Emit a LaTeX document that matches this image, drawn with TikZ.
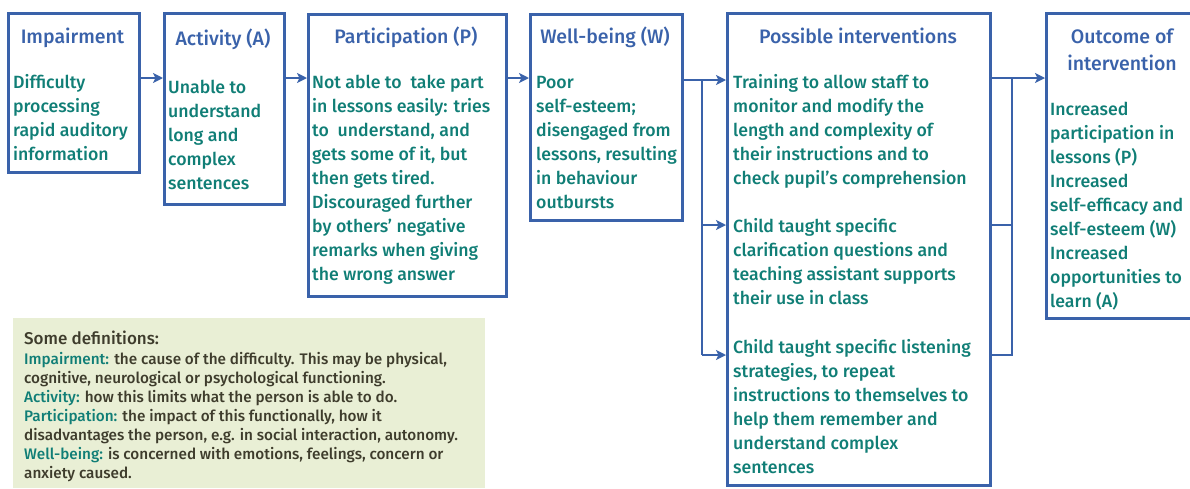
\documentclass[tikz,border=0pt]{standalone}
\usepackage{fontspec}
\setmainfont{Fira Sans}[UprightFont=* Medium, BoldFont=* SemiBold]
\usetikzlibrary{arrows.meta}
\definecolor{frameblue}{RGB}{58,98,170}
\definecolor{tealtext}{RGB}{16,126,118}
\definecolor{defbg}{RGB}{233,239,213}
\definecolor{deftext}{RGB}{62,60,44}
\begin{document}
\begin{tikzpicture}[x=1pt,y=-1pt,
  box/.style={draw=frameblue, line width=2.8pt, anchor=north west, inner sep=0pt},
  ttl/.style={text=frameblue, font=\fontsize{19.5}{27}\selectfont, align=center, anchor=base, inner sep=0pt},
  body/.style={text=tealtext, font=\fontsize{17.7}{24}\selectfont, align=left, anchor=base west, inner sep=0pt},
  defs/.style={text=deftext, font=\fontsize{15.3}{19}\selectfont, align=left, anchor=base west, inner sep=0pt},
  link/.style={draw=frameblue, line width=2.2pt},
  arr/.style={link, -{Stealth[length=10pt,width=10pt,inset=2.5pt]}}]
\clip (0,0) rectangle (1190,488);

% boxes
\node[box, minimum width=131, minimum height=159] (imp) at (7,12) {};
\node[box, minimum width=120, minimum height=191] (act) at (163,12) {};
\node[box, minimum width=198, minimum height=282] (par) at (307,13) {};
\node[box, minimum width=152, minimum height=206] (wb) at (529,13) {};
\node[box, minimum width=263, minimum height=472] (int) at (726,12) {};
\node[box, minimum width=154, minimum height=305] (out) at (1045,12) {};
\node[anchor=north west, fill=defbg, minimum width=472, minimum height=170, inner sep=0pt] (def) at (13,318) {};

% titles (anchored at the baseline of their last line)
\node[ttl] (imp-t) at (72.5,43) {Impairment};
\node[ttl] (act-t) at (223,45) {Activity (A)};
\node[ttl] (par-t) at (406,43) {Participation (P)};
\node[ttl] (wb-t) at (605,43) {Well-being (W)};
\node[ttl] (int-t) at (858,43) {Possible interventions};
\node[ttl] (out-t) at (1122,70) {Outcome of\\intervention};

% body texts (anchored at the baseline of their last line)
\node[body] (imp-b) at (13,160) {Difficulty\\processing\\rapid auditory\\information};
\node[body] (act-b) at (168,189) {Unable to\\understand\\long and\\complex\\sentences};
\node[body] (par-b) at (312,280) {Not able to\ \ take part\\in lessons easily: tries\\to\ \ understand, and\\gets some of it, but\\then gets tired.\\Discouraged further\\by others’ negative\\remarks when giving\\the wrong answer};
\node[body] (wb-b) at (536,208) {Poor\\self-esteem;\\disengaged from\\lessons, resulting\\in behaviour\\outbursts};
\node[body] (int-b1) at (733,184) {Training to allow staff to\\monitor and modify the\\length and complexity of\\their instructions and to\\check pupil’s comprehension};
\node[body] (int-b2) at (733,304) {Child taught specific\\clarification questions and\\teaching assistant supports\\their use in class};
\node[body] (int-b3) at (733,473) {Child taught specific listening\\strategies, to repeat\\instructions to themselves to\\help them remember and\\understand complex\\sentences};
\node[body] (out-b) at (1050,307) {Increased\\participation in\\lessons (P)\\Increased\\self-efficacy and\\self-esteem (W)\\Increased\\opportunities to\\learn (A)};

% definitions
\node[defs, font=\fontsize{17}{19}\selectfont] (def-t) at (24,344) {Some definitions:};
\node[defs] (def-b) at (24,478) {\textcolor{tealtext}{Impairment:} the cause of the difficulty. This may be physical,\\cognitive, neurological or psychological functioning.\\\textcolor{tealtext}{Activity:} how this limits what the person is able to do.\\\textcolor{tealtext}{Participation:} the impact of this functionally, how it\\disadvantages the person, e.g. in social interaction, autonomy.\\\textcolor{tealtext}{Well-being:} is concerned with emotions, feelings, concern or\\anxiety caused.};

% connectors along the chain
\draw[arr] (imp.east |- 0,78) -- (act.west |- 0,78);
\draw[arr] (act.east |- 0,78) -- (par.west |- 0,78);
\draw[arr] (par.east |- 0,78) -- (wb.west |- 0,78);

% branching into the interventions
\coordinate (s1) at (702,80);
\coordinate (s2) at (702,225);
\coordinate (s3) at (702,355);
\draw[arr] (wb.east |- s1) -- (s1) -- (int.west |- s1);
\draw[link] (s1) -- (s3);
\draw[arr] (s2) -- (int.west |- s2);
\draw[arr] (s3) -- (int.west |- s3);

% joining into the outcome
\coordinate (j1) at (1012,78);
\coordinate (j2) at (1012,225);
\coordinate (j3) at (1012,355);
\draw[link] (int.east |- j2) -- (j2);
\draw[link] (int.east |- j3) -- (j3) -- (j1);
\draw[arr] (int.east |- j1) -- (out.west |- j1);
\end{tikzpicture}
\end{document}
